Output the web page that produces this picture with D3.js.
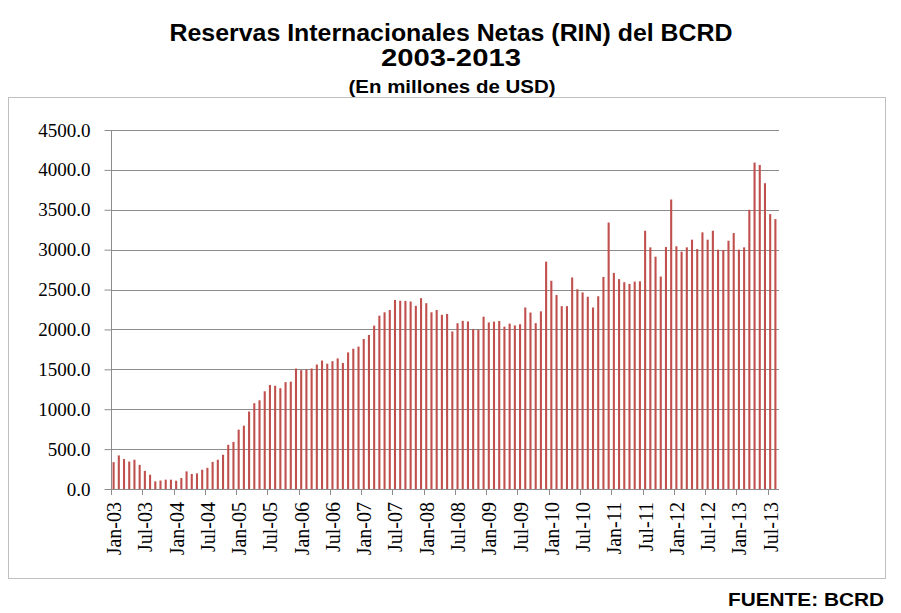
<!DOCTYPE html>
<html>
<head>
<meta charset="utf-8">
<script src="https://cdn.jsdelivr.net/npm/d3@7"></script>
<style>
  html, body { margin: 0; padding: 0; background: #fff; }
  svg { display: block; }
</style>
</head>
<body>
<svg id="chart" width="901" height="613"></svg>
<script>
// ---- Data (monthly, Jan-03 .. Aug-13), millions of USD ----
const monthNames = ["Jan","Feb","Mar","Apr","May","Jun","Jul","Aug","Sep","Oct","Nov","Dec"];
const startYear = 2003;
const values = [
  337, 421, 375, 344, 367, 302, 227, 179,  96, 106, 117, 117,   // 2003
  104, 138, 221, 188, 196, 242, 265, 340, 367, 429, 554, 590,   // 2004
  744, 794, 971,1075,1112,1225,1304,1294,1263,1340,1345,1510,   // 2005
 1490,1498,1510,1560,1610,1571,1602,1637,1580,1712,1758,1785,   // 2006
 1880,1931,2048,2173,2215,2244,2369,2360,2358,2350,2296,2392,   // 2007
 2329,2215,2244,2183,2194,1975,2078,2108,2100,2006,1996,2160,   // 2008
 2088,2098,2106,2035,2073,2050,2065,2275,2212,2079,2227,2850,   // 2009
 2610,2431,2292,2292,2652,2504,2464,2410,2275,2416,2658,3340,   // 2010
 2708,2631,2592,2571,2600,2604,3237,3029,2912,2663,3033,3629,   // 2011
 3042,2975,3029,3125,3008,3217,3125,3237,3000,2996,3112,3208,   // 2012
 3000,3029,3500,4092,4062,3833,3446,3383                        // 2013
];
const categories = values.map((v, i) => {
  const y = startYear + Math.floor(i / 12);
  return monthNames[i % 12] + "-" + String(y).slice(2);
});
const yTicks = [0, 500, 1000, 1500, 2000, 2500, 3000, 3500, 4000, 4500];
const titleLines = ["Reservas Internacionales Netas (RIN) del BCRD", "2003-2013"];
const subtitle = "(En millones de USD)";
const source = "FUENTE: BCRD";

// ---- Layout ----
const svg = d3.select("#chart");
const plot = { left: 111, right: 778, top: 130, bottom: 489 };
const sans = "'Liberation Sans', Arial, Helvetica, sans-serif";
const serif = "'Liberation Serif', 'Times New Roman', serif";

// outer frame
svg.append("rect")
  .attr("x", 8.5).attr("y", 97.5).attr("width", 877).attr("height", 481)
  .attr("fill", "none").attr("stroke", "#bfbfbf").attr("stroke-width", 1);

// titles
function addText(txt, cx, cy, size, len, anchor) {
  const t = svg.append("text").attr("x", cx).attr("y", cy)
    .attr("text-anchor", anchor || "middle")
    .style("font-family", sans).style("font-weight", "bold")
    .style("font-size", size + "px").attr("fill", "#000")
    .text(txt);
  if (len) t.attr("textLength", len).attr("lengthAdjust", "spacingAndGlyphs");
  return t;
}
addText(titleLines[0], 451, 41, 23, 563);
addText(titleLines[1], 451, 66, 23, 140);
addText(subtitle, 452, 93, 18, 207);
addText(source, 884, 606, 19, 156, "end");

// scales
const x = d3.scaleBand()
  .domain(categories)
  .range([plot.left, plot.right])
  .paddingInner(0.6)
  .paddingOuter(0.3);
const step = x.step();
const y = d3.scaleLinear().domain([0, 4500]).range([plot.bottom, plot.top]);

// gridlines
svg.append("g").selectAll("line").data(yTicks.filter(d => d > 0)).join("line")
  .attr("x1", plot.left).attr("x2", plot.right + 1)
  .attr("y1", d => Math.round(y(d)) + 0.5).attr("y2", d => Math.round(y(d)) + 0.5)
  .attr("stroke", "#8c8c8c").attr("stroke-width", 1);

// bars
svg.append("g").selectAll("rect").data(values).join("rect")
  .attr("x", (d, i) => x(categories[i]))
  .attr("width", x.bandwidth())
  .attr("y", d => y(d))
  .attr("height", d => y(0) - y(d))
  .attr("fill", "#c0504d");

// y axis
const yAxis = d3.axisLeft(y).tickValues(yTicks).tickSize(7).tickPadding(14)
  .tickFormat(d3.format(".1f"));
const gy = svg.append("g").attr("transform", `translate(${plot.left + 0.5},0)`).call(yAxis);
gy.select(".domain").attr("stroke", "#8c8c8c").attr("d", `M0,${plot.top}V${plot.bottom}`);
gy.selectAll(".tick line").attr("stroke", "#8c8c8c");
gy.selectAll(".tick text")
  .style("font-family", serif)
  .style("font-size", "19px").attr("fill", "#000");

// x axis line
svg.append("line")
  .attr("x1", plot.left).attr("x2", plot.right + 1)
  .attr("y1", plot.bottom + 0.5).attr("y2", plot.bottom + 0.5)
  .attr("stroke", "#8c8c8c");

// x tick marks every 6 months at band boundaries
const tickIdx = d3.range(0, categories.length + 1, 6);
svg.append("g").selectAll("line").data(tickIdx).join("line")
  .attr("x1", i => Math.round(plot.left + i * step) + 0.5)
  .attr("x2", i => Math.round(plot.left + i * step) + 0.5)
  .attr("y1", plot.bottom).attr("y2", plot.bottom + 6)
  .attr("stroke", "#8c8c8c");

// x labels every 6 months, rotated
const labelIdx = d3.range(0, categories.length, 6);
svg.append("g").selectAll("text").data(labelIdx).join("text")
  .attr("transform", i => `translate(${x(categories[i]) + x.bandwidth() / 2 + 7.5},502) rotate(-90)`)
  .attr("text-anchor", "end")
  .style("font-family", serif)
  .style("font-size", "20px").attr("fill", "#000")
  .text(i => categories[i]);
</script>
</body>
</html>
